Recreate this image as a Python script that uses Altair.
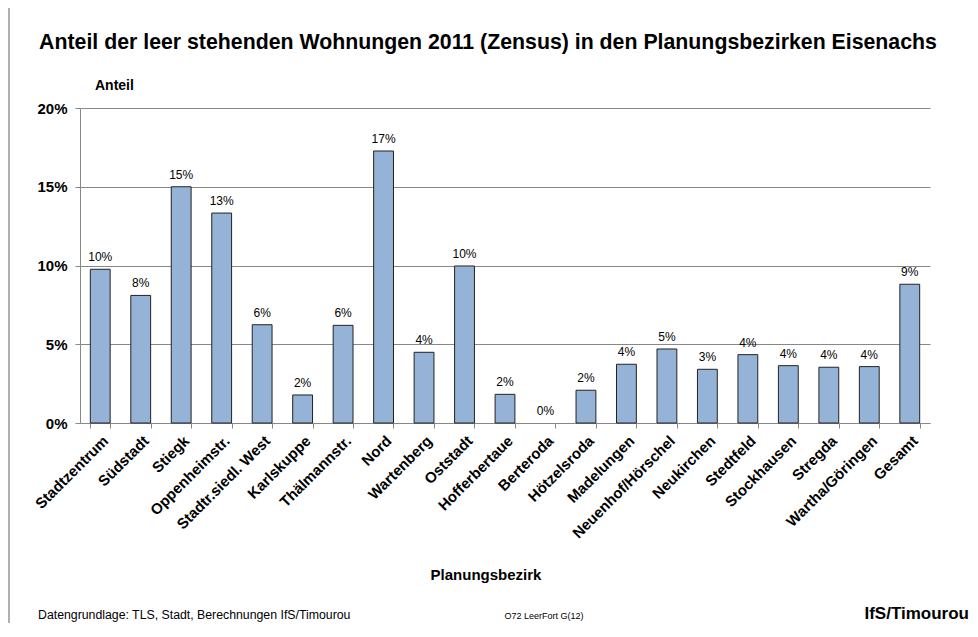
import altair as alt
import pandas as pd

categories = ["Stadtzentrum", "Südstadt", "Stiegk", "Oppenheimstr.", "Stadtr.siedl. West",
              "Karlskuppe", "Thälmannstr.", "Nord", "Wartenberg", "Oststadt", "Hofferbertaue",
              "Berteroda", "Hötzelsroda", "Madelungen", "Neuenhof/Hörschel", "Neukirchen",
              "Stedtfeld", "Stockhausen", "Stregda", "Wartha/Göringen", "Gesamt"]
values = [0.0976, 0.0810, 0.1500, 0.1333, 0.0624,
          0.0178, 0.0620, 0.1727, 0.0449, 0.0997, 0.0182,
          0.0, 0.0208, 0.0373, 0.0470, 0.0341,
          0.0434, 0.0364, 0.0354, 0.0358, 0.0881]

title_text = "Anteil der leer stehenden Wohnungen 2011 (Zensus) in den Planungsbezirken Eisenachs"
y_title = "Anteil"
x_title = "Planungsbezirk"
source_text = "Datengrundlage: TLS, Stadt, Berechnungen IfS/Timourou"
code_text = "O72 LeerFort G(12)"
brand_text = "IfS/Timourou"

FONT = "Liberation Sans"
df = pd.DataFrame({"Bezirk": categories, "Anteil": values})

W, H = 850, 315

xenc = alt.X("Bezirk:N", sort=categories,
             scale=alt.Scale(paddingInner=0.51, paddingOuter=0.255),
             axis=alt.Axis(title=None, labelAngle=-45, labelFont=FONT, labelFontSize=15,
                           labelFontWeight="bold", labelColor="black", labelPadding=5,
                           tickBand="extent", tickSize=5, tickColor="#888888",
                           domainColor="#888888", labelOverlap=False, labelLimit=300))
yenc = alt.Y("Anteil:Q", scale=alt.Scale(domain=[0, 0.2], nice=False),
             axis=alt.Axis(title=None, values=[0, 0.05, 0.10, 0.15, 0.20], format=".0%",
                           labelFont=FONT, labelFontSize=15, labelFontWeight="bold",
                           labelColor="black", labelPadding=8, tickSize=5,
                           tickColor="#888888", domainColor="#888888",
                           gridColor="#888888", gridWidth=1))

base = alt.Chart(df)
bars = base.mark_bar(color="#95B3D7", stroke="#222222", strokeWidth=1).encode(
    x=xenc, y=yenc,
    strokeOpacity=alt.condition(alt.datum.Anteil > 0, alt.value(1), alt.value(0)))
labels = base.mark_text(font=FONT, fontSize=12, baseline="bottom", dy=-5, color="black").encode(
    x=alt.X("Bezirk:N", sort=categories), y="Anteil:Q",
    text=alt.Text("Anteil:Q", format=".0%"))

ann = pd.DataFrame({"a": [0]})
def txt(s, x, y, size, weight="normal", align="center", baseline="middle"):
    return alt.Chart(ann).mark_text(text=s, font=FONT, fontSize=size, fontWeight=weight,
                                    align=align, baseline=baseline, color="black").encode(
        x=alt.value(x), y=alt.value(y))

title = txt(title_text, 408, -65, 21.3, "bold")
ytl = txt(y_title, 15, -22, 14, "bold", align="left")
xtl = txt(x_title, 406, 467, 15, "bold")
src = txt(source_text, -42, 507, 12.3, align="left")
code = txt(code_text, 464, 508, 9)
brand = txt(brand_text, 889, 506, 17, "bold", align="right")

frame_top = alt.Chart(ann).mark_rule(color="#b0b0b0", strokeWidth=2).encode(
    x=alt.value(-72), x2=alt.value(890), y=alt.value(-107))
frame_left = alt.Chart(ann).mark_rule(color="#b0b0b0", strokeWidth=2).encode(
    x=alt.value(-71), y=alt.value(-107), y2=alt.value(520))

chart = alt.layer(bars, labels, title, ytl, xtl, src, code, brand, frame_top, frame_left).properties(
    width=W, height=H,
    autosize=alt.AutoSizeParams(type="none"),
    padding={"left": 72, "top": 100, "right": 40, "bottom": 200},
    background="white",
).configure_view(stroke=None)

chart.save("out.html", embed_options={"renderer": "svg", "actions": False})
